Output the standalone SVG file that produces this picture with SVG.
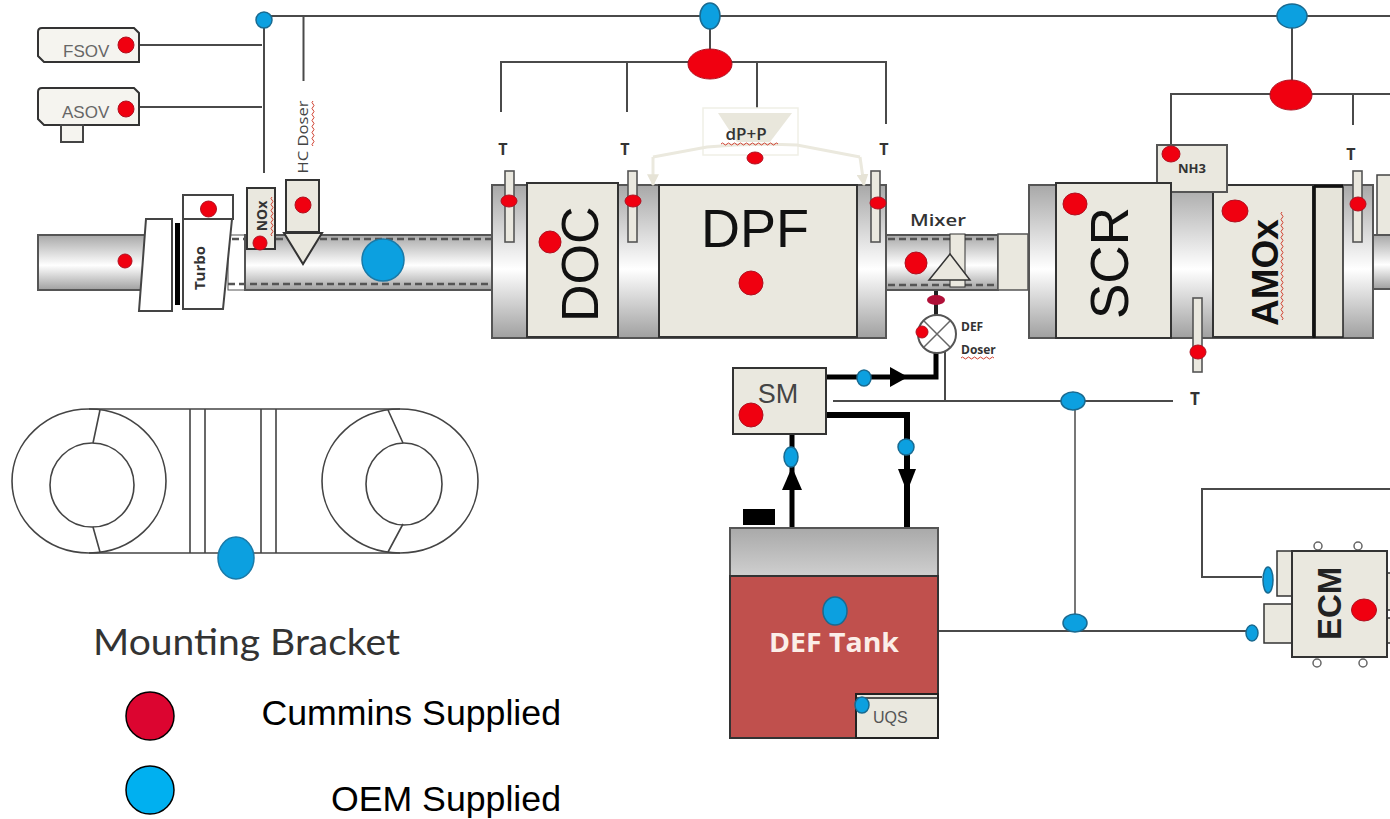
<svg xmlns="http://www.w3.org/2000/svg" width="1390" height="819" viewBox="0 0 1390 819">
<defs>
<linearGradient id="pipe" x1="0" y1="0" x2="0" y2="1"><stop offset="0" stop-color="#a8a8a8"/><stop offset="0.55" stop-color="#ffffff"/><stop offset="1" stop-color="#a0a0a0"/></linearGradient>
<linearGradient id="tanktop" x1="0" y1="0" x2="0" y2="1"><stop offset="0" stop-color="#a9a9a9"/><stop offset="1" stop-color="#cfcfcf"/></linearGradient>
<marker id="pale" viewBox="0 0 10 10" refX="9" refY="5" markerWidth="4" markerHeight="4" orient="auto"><path d="M0 0L10 5L0 10Z" fill="#e6e3d6"/></marker>
</defs>
<style>
.ln{fill:none;stroke:#4a4a4a;stroke-width:2}
.thick{fill:none;stroke:#000;stroke-width:5}
.box{fill:#eae8df;stroke:#333;stroke-width:2}
.can{fill:url(#pipe);stroke:#555;stroke-width:2}
.white{fill:#fff;stroke:#444;stroke-width:2}
.sens{fill:#eae8df;stroke:#555;stroke-width:1.6}
.red{fill:#f00010;stroke:#b01020;stroke-width:1}
.blue{fill:#0ca0e0;stroke:#1a6a90;stroke-width:1.5}
.dash{fill:none;stroke:#555;stroke-width:2.5;stroke-dasharray:7 4}
.sq{fill:none;stroke:#d04030;stroke-width:1}
.br{fill:none;stroke:#444;stroke-width:1.6}
text{font-family:"Liberation Sans",Arial,sans-serif}
.t{font-size:16px;font-weight:bold;fill:#333;text-anchor:middle;font-family:"Open Sans","Liberation Sans",sans-serif}
.sm{font-weight:bold;fill:#333;font-family:"Open Sans","Liberation Sans",sans-serif}
</style>

<g id="connectors">
<path class="ln" d="M264 16H1390M264 20V173M140 45H262M140 107H262M303.500 16V81"/>
<path class="ln" d="M710 16V64M501 112V62H886V124M627 62V112M757 62V112"/>
<path class="ln" d="M1292 16V95M1171 145V94H1390M1353 94V125"/>
<path class="ln" d="M833 401H1173M945 348V401"/>
<path d="M1075 401V622" fill="none" stroke="#777" stroke-width="2"/>
<path class="ln" d="M938 631H1248"/>
<path class="ln" d="M1390 489H1202V577H1262"/>
<path class="thick" d="M826 377H936V348"/>
<path class="thick" style="stroke-width:6" d="M826 415H907V528"/>
<path class="thick" d="M792 528V434"/>
<path d="M890 367L908 377L890 387Z"/>
<path d="M898 469H916L907 492Z"/>
<path d="M782 490H802L792 467Z"/>
<path d="M936 280V320" fill="none" stroke="#222" stroke-width="4"/>
<ellipse class="blue" cx="264" cy="20" rx="8" ry="8"/>
<ellipse class="blue" cx="710" cy="16" rx="10" ry="13"/>
<ellipse class="blue" cx="1292" cy="16" rx="15" ry="12"/>
<ellipse class="red" cx="710" cy="64" rx="22" ry="15"/>
<ellipse class="red" cx="1291" cy="95" rx="21" ry="15"/>
<ellipse class="blue" cx="864" cy="378" rx="7" ry="8"/>
<ellipse class="blue" cx="906" cy="447" rx="8" ry="8"/>
<ellipse class="blue" cx="791" cy="457" rx="7" ry="10"/>
<ellipse class="blue" cx="1073" cy="401" rx="12" ry="9"/>
<ellipse class="blue" cx="1075" cy="623" rx="12" ry="9"/>
<ellipse class="blue" cx="1252" cy="633" rx="6" ry="8"/>
<ellipse class="blue" cx="1268" cy="580" rx="5" ry="13"/>
</g>

<g id="fsov"><path class="box" style="fill:#f5f4ef" d="M38 32Q38 28 42 28H134L139 33V62H44L38 56Z"/><text x="63" y="57" font-size="17" fill="#666">FSOV</text><circle class="red" cx="126" cy="45" r="8"/></g>
<g id="asov"><path class="box" style="fill:#f5f4ef" d="M38 92Q38 88 42 88H134L139 93V125H44L38 119Z"/><rect x="61" y="125" width="22" height="17" fill="#f5f4ef" stroke="#444" stroke-width="2"/><text x="62" y="118" font-size="17" fill="#666">ASOV</text><circle class="red" cx="126" cy="109" r="8"/></g>

<g id="exhaust-pipe">
<rect class="can" x="38" y="235" width="107" height="55"/>
<circle class="red" cx="125" cy="261" r="7"/>
<rect x="228" y="235" width="18" height="55" fill="#fff" stroke="#555" stroke-width="1"/>
<rect class="can" x="245" y="235" width="247" height="55"/>
<path class="dash" d="M232 239H492M228 284H492"/>
<circle cx="383" cy="260" r="21" fill="#0ca0e0" stroke="#1a7aa8" stroke-width="1.500"/>
</g>
<g id="turbo">
<path class="white" d="M146 219H172V311H139Z"/>
<rect x="175" y="223" width="5" height="82" fill="#000"/>
<rect class="white" x="183" y="195" width="50" height="24"/>
<path class="white" d="M183 219H232L223 309H183Z"/>
<circle class="red" cx="208.500" cy="209" r="8"/>
<text class="sm" font-size="15" text-anchor="middle" transform="translate(205 268) rotate(-90)">Turbo</text>
</g>
<g id="nox"><rect class="box" x="247" y="188" width="28" height="61"/><text class="sm" font-size="14" text-anchor="middle" transform="translate(267 216) rotate(-90)">NOx</text><path class="sq" d="M272 197q-2 1.500 0 3t0 3t0 3t0 3t0 3t0 3t0 3t0 3t0 3t0 3t0 3t0 3t0 3"/><circle class="red" cx="260" cy="243" r="7"/></g>
<g id="hc-doser">
<rect class="box" x="286" y="180" width="33" height="52"/>
<path class="box" d="M284 233H322L303 264Z"/>
<circle class="red" cx="303" cy="205" r="8"/>
<text font-size="15" fill="#444" textLength="73" lengthAdjust="spacingAndGlyphs" text-anchor="middle" transform="translate(308 137) rotate(-90)" style="font-family:'Open Sans','Liberation Sans',sans-serif">HC Doser</text>
<path class="sq" d="M313 101q-2 1.500 0 3t0 3t0 3t0 3t0 3t0 3t0 3t0 3t0 3t0 3t0 3t0 3t0 3t0 3t0 3"/>
</g>

<g id="doc-dpf">
<rect class="can" x="492" y="185" width="394" height="153"/>
<rect class="box" x="527" y="183" width="91" height="154"/>
<rect class="box" x="659" y="185" width="198" height="152"/>
<text font-size="52" fill="#111" transform="translate(598 322) rotate(-90)">DOC</text>
<circle class="red" cx="550" cy="242" r="11"/>
<text x="755" y="247" font-size="54" fill="#111" text-anchor="middle">DPF</text>
<circle class="red" cx="751" cy="283" r="12"/>
</g>
<g id="t-sensors-1">
<rect class="sens" x="505" y="171" width="9" height="71"/><ellipse class="red" cx="509" cy="201" rx="8" ry="6"/><text class="t" x="503" y="155">T</text>
<rect class="sens" x="628" y="171" width="9" height="71"/><ellipse class="red" cx="633" cy="201" rx="8" ry="6"/><text class="t" x="625" y="155">T</text>
<rect class="sens" x="871" y="171" width="9" height="71"/><ellipse class="red" cx="878" cy="203" rx="8" ry="6"/><text class="t" x="884" y="155">T</text>
</g>
<g id="dp-p">
<rect x="703" y="108" width="95" height="47" fill="#fff" stroke="#f0efe6" stroke-width="1.500"/>
<path d="M718 113H792L770 142H737Z" fill="#e9e7dc"/>
<path d="M653 157L707 147Q750 143 797 145L860 157" fill="none" stroke="#ebe9de" stroke-width="3"/>
<path d="M653 157V185" fill="none" stroke="#ebe9de" stroke-width="3" marker-end="url(#pale)"/>
<path d="M860 157L864 185" fill="none" stroke="#ebe9de" stroke-width="3" marker-end="url(#pale)"/>
<text class="sm" x="746" y="140" font-size="17" text-anchor="middle" style="font-weight:600" fill="#2a3a4a">dP+P</text>
<path class="sq" d="M721 144q1.500 -2 3 0t3 0t3 0t3 0t3 0t3 0t3 0t3 0t3 0t3 0t3 0t3 0t3 0t3 0t3 0t3 0t3 0t3 0t3 0"/>
<ellipse class="red" cx="755" cy="158" rx="8" ry="6"/>
</g>
<g id="mixer">
<rect class="can" x="886" y="235" width="112" height="55"/>
<path class="dash" d="M888 239H998M888 285H998"/>
<circle class="red" cx="916" cy="263" r="11"/>
<rect class="box" x="950" y="234" width="15" height="53" style="stroke-width:1"/>
<path class="box" d="M929 280H970L950 254Z" style="stroke-width:1.500"/>
<text class="sm" x="938" y="226" font-size="17" textLength="56" lengthAdjust="spacingAndGlyphs" text-anchor="middle" style="font-weight:600" fill="#222e40">Mixer</text>
<rect x="998" y="234" width="30" height="56" fill="#eae8df" stroke="#555" stroke-width="1.500"/>
</g>
<g id="def-doser">
<ellipse cx="936" cy="300" rx="9" ry="5" fill="#b01038"/>
<circle cx="937" cy="334" r="19" fill="#fff" stroke="#555" stroke-width="2"/>
<path d="M924 321L950 347M950 321L924 347" stroke="#666" stroke-width="1.500"/>
<circle class="red" cx="922" cy="332" r="6"/>
<text class="sm" x="961" y="331" font-size="12">DEF</text>
<text class="sm" x="961" y="354" font-size="12">Doser</text>
<path class="sq" d="M961 358q1.500 -2 3 0t3 0t3 0t3 0t3 0t3 0t3 0t3 0t3 0t3 0t3 0"/>
</g>

<g id="scr-amox">
<rect class="can" x="1029" y="185" width="344" height="153"/>
<rect class="box" x="1213" y="185" width="100" height="152"/>
<text font-size="37" font-weight="bold" fill="#111" transform="translate(1278 326) rotate(-90)">AMOx</text>
<path class="sq" d="M1282 212q-2 1.500 0 3t0 3t0 3t0 3t0 3t0 3t0 3t0 3t0 3t0 3t0 3t0 3t0 3t0 3t0 3t0 3t0 3t0 3t0 3t0 3t0 3t0 3t0 3t0 3t0 3t0 3t0 3t0 3t0 3t0 3t0 3t0 3t0 3t0 3t0 3t0 3"/>
<ellipse class="red" cx="1235" cy="211" rx="13" ry="11"/>
<rect x="1315" y="187" width="28" height="150" fill="#e6e4da" stroke="#222" stroke-width="1.500"/>
<path d="M1314 186V338M1314 186H1343" fill="none" stroke="#111" stroke-width="3"/>
<rect x="1157" y="145" width="70" height="47" fill="#eae8df" stroke="#555" stroke-width="2"/>
<text class="sm" x="1192" y="173" font-size="13" text-anchor="middle" fill="#444a5a">NH3</text>
<ellipse class="red" cx="1171" cy="154" rx="9" ry="8"/>
<rect class="box" x="1056" y="183" width="115" height="155"/>
<text font-size="53" fill="#111" transform="translate(1128 319) rotate(-90)">SCR</text>
<ellipse class="red" cx="1075" cy="204" rx="12" ry="11"/>
</g>
<g id="t-sensors-2">
<rect class="sens" x="1193" y="298" width="9" height="74"/><ellipse class="red" cx="1198" cy="352" rx="8" ry="7"/>
<rect class="sens" x="1353" y="171" width="9" height="71"/><ellipse class="red" cx="1358" cy="204" rx="8" ry="7"/>
<text class="t" x="1351" y="160">T</text>
<text x="1195" y="405" font-size="17" fill="#333" text-anchor="middle" font-weight="bold" style="font-family:'Open Sans','Liberation Sans',sans-serif">T</text>
</g>
<g id="outlet">
<rect x="1377" y="175" width="20" height="60" fill="#eae8df" stroke="#444" stroke-width="1.500"/>
<rect class="can" x="1373" y="235" width="30" height="54"/>
</g>

<g id="sm"><rect class="box" x="733" y="368" width="93" height="66"/><text x="778" y="403" font-size="27" fill="#444" text-anchor="middle">SM</text><circle class="red" cx="751" cy="415" r="12"/></g>
<g id="def-tank">
<rect x="743" y="509" width="32" height="16" fill="#000"/>
<rect x="730" y="528" width="208" height="48" fill="url(#tanktop)" stroke="#555" stroke-width="2"/>
<rect x="730" y="576" width="208" height="162" fill="#c0504d" stroke="#333" stroke-width="2"/>
<ellipse class="blue" cx="835" cy="611" rx="12" ry="14"/>
<text x="834" y="652" font-size="27" font-weight="bold" fill="#fbeee8" textLength="130" lengthAdjust="spacingAndGlyphs" text-anchor="middle" style="font-family:'Open Sans','Liberation Sans',sans-serif">DEF Tank</text>
<rect x="856" y="694" width="82" height="44" fill="#eae8df" stroke="#222" stroke-width="2"/>
<path d="M856 698H938" stroke="#222" stroke-width="1.500"/>
<ellipse class="blue" cx="862" cy="705" rx="7" ry="8"/>
<text x="873" y="723" font-size="16" fill="#555">UQS</text>
</g>
<g id="ecm">
<g fill="none" stroke="#666" stroke-width="1.500"><circle cx="1318" cy="546" r="4"/><circle cx="1358" cy="546" r="4"/><circle cx="1317" cy="663" r="4"/><circle cx="1363" cy="663" r="4"/></g>
<rect class="box" x="1277" y="551" width="15" height="45" style="stroke-width:1.500"/>
<rect class="box" x="1264" y="604" width="28" height="39" style="stroke-width:1.500"/>
<rect class="box" x="1387" y="573" width="8" height="37" style="stroke-width:1.500"/>
<rect class="box" x="1387" y="618" width="8" height="25" style="stroke-width:1.500"/>
<rect class="box" x="1292" y="551" width="95" height="106"/>
<text font-size="33" font-weight="bold" fill="#222" transform="translate(1341 640) rotate(-90)">ECM</text>
<ellipse class="red" cx="1364" cy="610" rx="12.500" ry="11"/>
</g>

<g id="mounting-bracket">
<ellipse class="br" cx="89" cy="481" rx="77" ry="72"/>
<ellipse class="br" cx="92" cy="485" rx="42" ry="42"/>
<ellipse class="br" cx="400" cy="481" rx="78" ry="72"/>
<ellipse class="br" cx="404" cy="484" rx="38" ry="41"/>
<path class="br" d="M89 409H400M89 553H400M190 409V553M205 409V553M261 409V553M276 409V553M100 410L93 443M93 527L100 552M388 410L403 443M403 524L388 552"/>
<ellipse cx="236" cy="558" rx="18" ry="21" fill="#0ca0e0" stroke="#1a7aa8" stroke-width="1.500"/>
<text x="93" y="655" font-size="36" fill="#333" textLength="307" lengthAdjust="spacingAndGlyphs" style="font-family:Lato,'Open Sans',sans-serif">Mounting Bracket</text>
</g>
<g id="legend">
<circle cx="150" cy="716" r="24" fill="#dc0530" stroke="#000" stroke-width="1.500"/>
<circle cx="150" cy="790" r="24" fill="#00b0f0" stroke="#000" stroke-width="1.500"/>
<text x="561" y="725" font-size="35.700" fill="#000" text-anchor="end">Cummins Supplied</text>
<text x="561" y="811" font-size="35.700" fill="#000" text-anchor="end">OEM Supplied</text>
</g>
</svg>
